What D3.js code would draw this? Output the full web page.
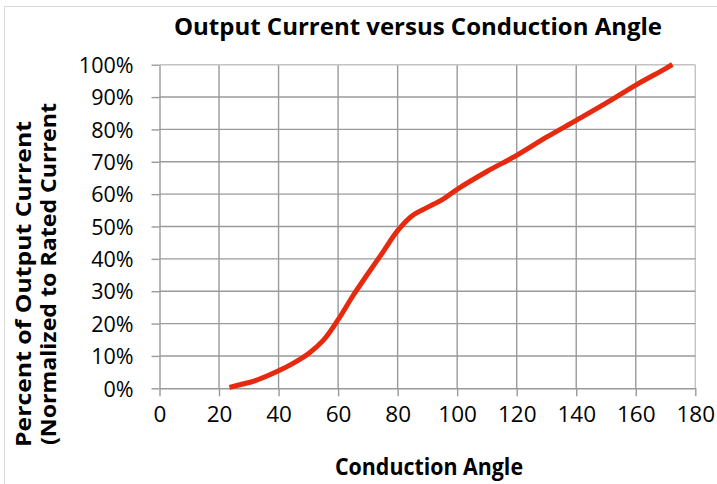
<!DOCTYPE html>
<html><head><meta charset="utf-8">
<script src="https://cdn.jsdelivr.net/npm/d3@7"></script>
<style>html,body{margin:0;padding:0;background:#fff;}svg{display:block;}</style>
</head><body>
<svg id="chart" width="717" height="484"></svg>
<script>
const angles   = [23.5, 27, 32, 40, 45, 50, 55, 60, 65, 70, 75, 80, 85, 90, 95, 100, 110, 120, 130, 140, 150, 160, 170, 172.3];
const percents = [0.3, 1.1, 2.3, 5.4, 7.8, 10.7, 14.8, 21.2, 28.6, 35.4, 42, 48.7, 53.4, 55.9, 58.3, 61.5, 67, 72, 77.6, 82.8, 88.1, 93.7, 98.8, 100.1];
const xTicks = [0, 20, 40, 60, 80, 100, 120, 140, 160, 180];
const yTicks = [0, 10, 20, 30, 40, 50, 60, 70, 80, 90, 100];
const title = "Output Current versus Conduction Angle";
const xTitle = "Conduction Angle";
const yTitle1 = "Percent of Output Current";
const yTitle2 = "(Normalized to Rated Current";

const svg = d3.select("#chart");
const FONT = "'Open Sans', sans-serif";
const L = 159.5, R = 695.3, T = 64.7, B = 388.3;
const x = d3.scaleLinear().domain([0, 180]).range([L, R]);
const y = d3.scaleLinear().domain([0, 100]).range([B, T]);

// outer chart border
svg.append("rect").attr("x", 4.5).attr("y", 6.5).attr("width", 730).attr("height", 500)
  .attr("fill", "none").attr("stroke", "#d9d9d9").attr("stroke-width", 1);

// gridlines
const grid = svg.append("g");
grid.selectAll("line.v").data(xTicks.filter(d => d > 0)).join("line")
  .attr("x1", d => x(d)).attr("x2", d => x(d)).attr("y1", T).attr("y2", B)
  .attr("stroke", d => d === 180 ? "#c4c4c4" : "#9a9a9a").attr("stroke-width", 1.4);
grid.selectAll("line.h").data(yTicks.filter(d => d > 0)).join("line")
  .attr("x1", L).attr("x2", R).attr("y1", d => y(d)).attr("y2", d => y(d))
  .attr("stroke", d => d === 100 ? "#c4c4c4" : "#9a9a9a").attr("stroke-width", 1.4);

// axes
const xAxis = svg.append("g").attr("transform", `translate(0,${B})`)
  .call(d3.axisBottom(x).tickValues(xTicks).tickSize(8).tickPadding(10).tickSizeOuter(0));
const yAxis = svg.append("g").attr("transform", `translate(${L},0)`)
  .call(d3.axisLeft(y).tickValues(yTicks).tickSize(8).tickPadding(18).tickSizeOuter(0)
    .tickFormat(d => d + "%"));
[xAxis, yAxis].forEach(a => {
  a.select(".domain").attr("stroke", "#9a9a9a").attr("stroke-width", 1.4);
  a.selectAll(".tick line").attr("stroke", "#9a9a9a").attr("stroke-width", 1.4);
  a.selectAll("text").attr("font-family", FONT).attr("fill", "#000");
});
xAxis.selectAll("text").attr("font-size", 22.5).attr("dy", "0.71em");
yAxis.selectAll("text").attr("font-size", 21.5).attr("dy", "0.36em");

// line
const line = d3.line().x((d, i) => x(angles[i])).y((d, i) => y(percents[i])).curve(d3.curveCatmullRom.alpha(0.5));
svg.append("path").datum(angles).attr("d", line)
  .attr("fill", "none").attr("stroke", "#e62a0f").attr("stroke-width", 5)
  .attr("stroke-linejoin", "round");

// titles
svg.append("text").attr("x", 174).attr("y", 35).text(title)
  .attr("font-family", FONT).attr("font-weight", "bold").attr("font-size", 24)
  .attr("textLength", 488).attr("lengthAdjust", "spacingAndGlyphs");
svg.append("text").attr("x", 335).attr("y", 475).text(xTitle)
  .attr("font-family", FONT).attr("font-weight", "bold").attr("font-size", 24)
  .attr("textLength", 188).attr("lengthAdjust", "spacingAndGlyphs");
svg.append("text").attr("transform", "translate(31,447) rotate(-90)").text(yTitle1)
  .attr("font-family", FONT).attr("font-weight", "bold").attr("font-size", 22)
  .attr("textLength", 326).attr("lengthAdjust", "spacingAndGlyphs");
svg.append("text").attr("transform", "translate(56,445) rotate(-90)").text(yTitle2)
  .attr("font-family", FONT).attr("font-weight", "bold").attr("font-size", 22)
  .attr("textLength", 342).attr("lengthAdjust", "spacingAndGlyphs");
</script>
</body></html>
